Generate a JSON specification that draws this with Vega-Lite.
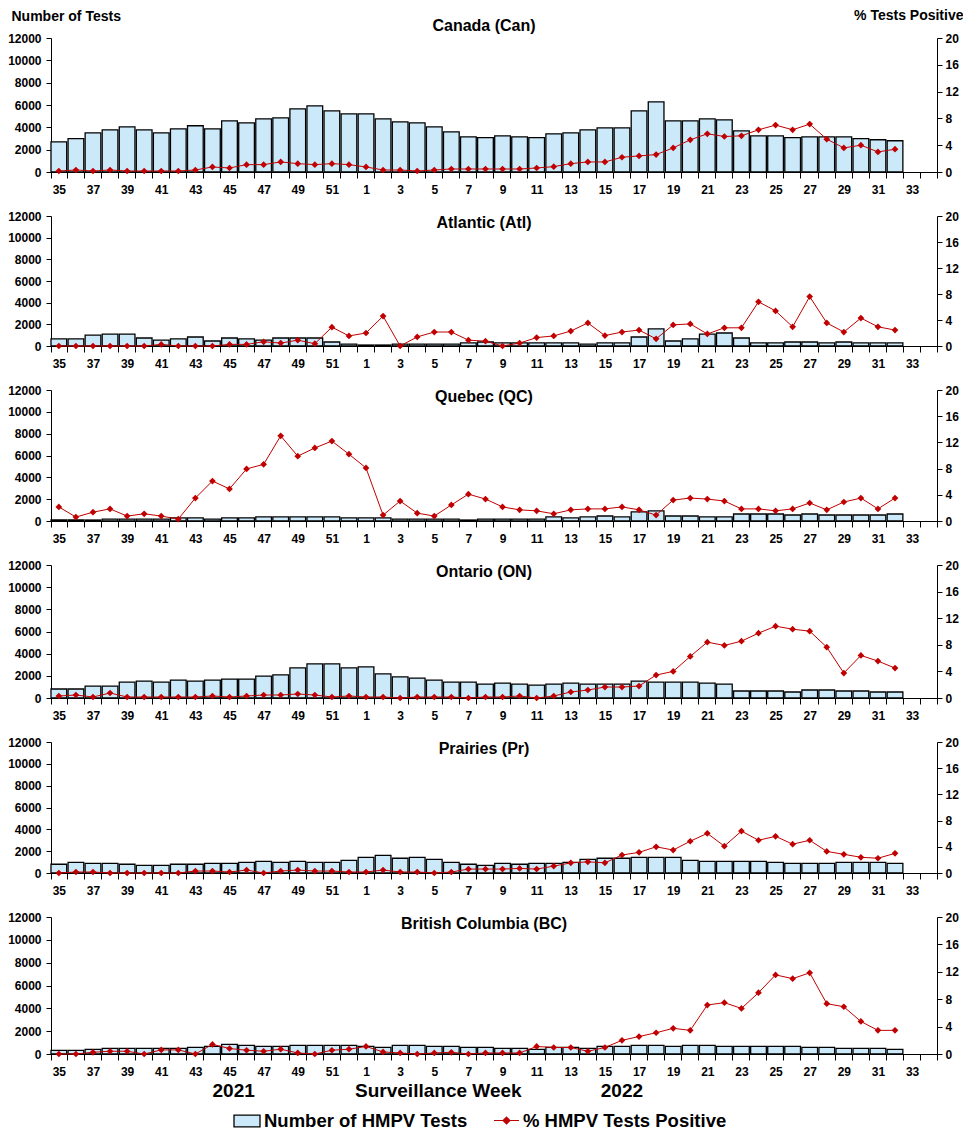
{
  "$schema": "https://vega.github.io/schema/vega-lite/v6.json",
  "padding": {"left": 7, "top": 8, "right": 0, "bottom": 0},
  "spacing": 15,
  "config": {
    "font": "Liberation Sans",
    "view": {"stroke": null},
    "axis": {"labelFont": "Liberation Sans", "labelFontWeight": "bold", "labelFontSize": 12, "labelColor": "black", "domainColor": "black", "tickColor": "black", "grid": false, "titleFont": "Liberation Sans", "titleFontWeight": "bold", "titleColor": "black"},
    "legend": {"labelFont": "Liberation Sans", "labelFontWeight": "bold", "labelFontSize": 18.5, "labelColor": "black", "labelLimit": 400, "padding": 0},
    "title": {"font": "Liberation Sans", "fontSize": 16, "fontWeight": "bold", "color": "black", "frame": "group", "baseline": "alphabetic", "dx": -10}
  },
  "vconcat": [
    {
      "title": {"text": "Canada (Can)", "offset": -26},
      "width": 886, "height": 134,
      "data": {"values": [
        {"week":35,"tests":2700,"pct":0.15},{"week":36,"tests":2980,"pct":0.3},{"week":37,"tests":3510,"pct":0.15},{"week":38,"tests":3780,"pct":0.3},{"week":39,"tests":4050,"pct":0.15},{"week":40,"tests":3780,"pct":0.15},{"week":41,"tests":3510,"pct":0.15},{"week":42,"tests":3870,"pct":0.15},{"week":43,"tests":4140,"pct":0.3},{"week":44,"tests":3870,"pct":0.75},{"week":45,"tests":4580,"pct":0.6},{"week":46,"tests":4400,"pct":1.1},{"week":47,"tests":4760,"pct":1.1},{"week":48,"tests":4850,"pct":1.5},{"week":49,"tests":5650,"pct":1.25},{"week":50,"tests":5920,"pct":1.1},{"week":51,"tests":5480,"pct":1.25},{"week":52,"tests":5210,"pct":1.1},
        {"week":1,"tests":5210,"pct":0.75},{"week":2,"tests":4760,"pct":0.3},{"week":3,"tests":4490,"pct":0.3},{"week":4,"tests":4400,"pct":0.15},{"week":5,"tests":4050,"pct":0.3},{"week":6,"tests":3600,"pct":0.45},{"week":7,"tests":3150,"pct":0.45},{"week":8,"tests":3070,"pct":0.45},{"week":9,"tests":3240,"pct":0.45},{"week":10,"tests":3150,"pct":0.45},{"week":11,"tests":3070,"pct":0.6},{"week":12,"tests":3420,"pct":0.8},{"week":13,"tests":3510,"pct":1.25},{"week":14,"tests":3780,"pct":1.5},{"week":15,"tests":3960,"pct":1.5},{"week":16,"tests":3960,"pct":2.2},{"week":17,"tests":5480,"pct":2.4},{"week":18,"tests":6280,"pct":2.6},{"week":19,"tests":4580,"pct":3.6},{"week":20,"tests":4580,"pct":4.8},{"week":21,"tests":4760,"pct":5.7},{"week":22,"tests":4670,"pct":5.3},{"week":23,"tests":3690,"pct":5.4},{"week":24,"tests":3240,"pct":6.3},{"week":25,"tests":3240,"pct":7.0},{"week":26,"tests":3070,"pct":6.3},{"week":27,"tests":3150,"pct":7.15},{"week":28,"tests":3150,"pct":4.9},{"week":29,"tests":3150,"pct":3.6},{"week":30,"tests":2980,"pct":4.0},{"week":31,"tests":2890,"pct":3.0},{"week":32,"tests":2800,"pct":3.4}
      ]},
      "encoding": {"x": {"field": "week", "type": "ordinal", "title": null,
        "scale": {"domain": [35,36,37,38,39,40,41,42,43,44,45,46,47,48,49,50,51,52,1,2,3,4,5,6,7,8,9,10,11,12,13,14,15,16,17,18,19,20,21,22,23,24,25,26,27,28,29,30,31,32,33,34], "paddingInner": 0.08, "paddingOuter": 0},
        "axis": {"labelExpr": "datum.value % 2 === 1 ? datum.label : ''", "tickBand": "extent", "labelAngle": 0, "tickSize": 6, "labelPadding": 6, "labelOverlap": false}}},
      "layer": [
        {"mark": {"type": "bar", "fill": "#cce9fa", "stroke": "black", "strokeWidth": 1.3},
         "encoding": {"y": {"field": "tests", "type": "quantitative", "scale": {"domain": [0, 12000], "nice": false},
           "axis": {"values": [0,2000,4000,6000,8000,10000,12000], "format": "d", "tickSize": 5, "labelPadding": 5, "title": "Number of Tests", "titleAngle": 0, "titleAlign": "left", "titleBaseline": "alphabetic", "titleX": -40, "titleY": -18, "titleFontSize": 14}}}},
        {"mark": {"type": "line", "color": "#c00000", "strokeWidth": 1},
         "encoding": {"y": {"field": "pct", "type": "quantitative", "scale": {"domain": [0, 20], "nice": false},
           "axis": {"orient": "right", "values": [0,4,8,12,16,20], "tickSize": 5, "labelPadding": 3, "title": "% Tests Positive", "titleAngle": 0, "titleAlign": "right", "titleBaseline": "alphabetic", "titleX": 26, "titleY": -19, "titleFontSize": 14}}}},
        {"mark": {"type": "point", "shape": "diamond", "filled": true, "color": "#c00000", "size": 45, "opacity": 1},
         "encoding": {"y": {"field": "pct", "type": "quantitative", "scale": {"domain": [0, 20], "nice": false}, "axis": null}}}
      ],
      "resolve": {"scale": {"y": "independent"}}
    },
    {
      "title": {"text": "Atlantic (Atl)", "offset": -21},
      "width": 886, "height": 130,
      "data": {"values": [
        {"week":35,"tests":650,"pct":0},{"week":36,"tests":650,"pct":0},{"week":37,"tests":1000,"pct":0},{"week":38,"tests":1100,"pct":0},{"week":39,"tests":1100,"pct":0},{"week":40,"tests":740,"pct":0},{"week":41,"tests":550,"pct":0.25},{"week":42,"tests":650,"pct":0},{"week":43,"tests":830,"pct":0},{"week":44,"tests":460,"pct":0},{"week":45,"tests":740,"pct":0.25},{"week":46,"tests":650,"pct":0.25},{"week":47,"tests":550,"pct":0.65},{"week":48,"tests":740,"pct":0.45},{"week":49,"tests":740,"pct":0.9},{"week":50,"tests":740,"pct":0.35},{"week":51,"tests":370,"pct":2.9},{"week":52,"tests":180,"pct":1.55},
        {"week":1,"tests":90,"pct":2.0},{"week":2,"tests":90,"pct":4.6},{"week":3,"tests":180,"pct":0},{"week":4,"tests":180,"pct":1.4},{"week":5,"tests":180,"pct":2.15},{"week":6,"tests":180,"pct":2.15},{"week":7,"tests":280,"pct":0.9},{"week":8,"tests":370,"pct":0.75},{"week":9,"tests":280,"pct":0},{"week":10,"tests":280,"pct":0.45},{"week":11,"tests":280,"pct":1.3},{"week":12,"tests":280,"pct":1.55},{"week":13,"tests":280,"pct":2.3},{"week":14,"tests":180,"pct":3.55},{"week":15,"tests":280,"pct":1.6},{"week":16,"tests":280,"pct":2.15},{"week":17,"tests":830,"pct":2.45},{"week":18,"tests":1580,"pct":1.1},{"week":19,"tests":460,"pct":3.25},{"week":20,"tests":650,"pct":3.4},{"week":21,"tests":1100,"pct":1.85},{"week":22,"tests":1200,"pct":2.8},{"week":23,"tests":740,"pct":2.8},{"week":24,"tests":280,"pct":6.8},{"week":25,"tests":280,"pct":5.4},{"week":26,"tests":370,"pct":2.95},{"week":27,"tests":370,"pct":7.6},{"week":28,"tests":280,"pct":3.55},{"week":29,"tests":370,"pct":2.15},{"week":30,"tests":280,"pct":4.3},{"week":31,"tests":280,"pct":2.95},{"week":32,"tests":280,"pct":2.45}
      ]},
      "encoding": {"x": {"field": "week", "type": "ordinal", "title": null,
        "scale": {"domain": [35,36,37,38,39,40,41,42,43,44,45,46,47,48,49,50,51,52,1,2,3,4,5,6,7,8,9,10,11,12,13,14,15,16,17,18,19,20,21,22,23,24,25,26,27,28,29,30,31,32,33,34], "paddingInner": 0.08, "paddingOuter": 0},
        "axis": {"labelExpr": "datum.value % 2 === 1 ? datum.label : ''", "tickBand": "extent", "labelAngle": 0, "tickSize": 6, "labelPadding": 6, "labelOverlap": false}}},
      "layer": [
        {"mark": {"type": "bar", "fill": "#cce9fa", "stroke": "black", "strokeWidth": 1.3},
         "encoding": {"y": {"field": "tests", "type": "quantitative", "scale": {"domain": [0, 12000], "nice": false},
           "axis": {"values": [0,2000,4000,6000,8000,10000,12000], "format": "d", "tickSize": 5, "labelPadding": 5, "title": null}}}},
        {"mark": {"type": "line", "color": "#c00000", "strokeWidth": 1},
         "encoding": {"y": {"field": "pct", "type": "quantitative", "scale": {"domain": [0, 20], "nice": false},
           "axis": {"orient": "right", "values": [0,4,8,12,16,20], "tickSize": 5, "labelPadding": 3, "title": null}}}},
        {"mark": {"type": "point", "shape": "diamond", "filled": true, "color": "#c00000", "size": 45, "opacity": 1},
         "encoding": {"y": {"field": "pct", "type": "quantitative", "scale": {"domain": [0, 20], "nice": false}, "axis": null}}}
      ],
      "resolve": {"scale": {"y": "independent"}}
    },
    {
      "title": {"text": "Quebec (QC)", "offset": -21},
      "width": 886, "height": 131,
      "data": {"values": [
        {"week":35,"tests":90,"pct":2.15},{"week":36,"tests":90,"pct":0.6},{"week":37,"tests":90,"pct":1.35},{"week":38,"tests":180,"pct":1.85},{"week":39,"tests":180,"pct":0.75},{"week":40,"tests":180,"pct":1.1},{"week":41,"tests":180,"pct":0.75},{"week":42,"tests":280,"pct":0.3},{"week":43,"tests":280,"pct":3.5},{"week":44,"tests":180,"pct":6.1},{"week":45,"tests":280,"pct":4.9},{"week":46,"tests":280,"pct":7.95},{"week":47,"tests":370,"pct":8.65},{"week":48,"tests":370,"pct":13.0},{"week":49,"tests":370,"pct":9.9},{"week":50,"tests":370,"pct":11.15},{"week":51,"tests":370,"pct":12.2},{"week":52,"tests":280,"pct":10.2},
        {"week":1,"tests":280,"pct":8.1},{"week":2,"tests":280,"pct":0.9},{"week":3,"tests":180,"pct":3.05},{"week":4,"tests":180,"pct":1.2},{"week":5,"tests":180,"pct":0.75},{"week":6,"tests":180,"pct":2.45},{"week":7,"tests":90,"pct":4.1},{"week":8,"tests":180,"pct":3.35},{"week":9,"tests":180,"pct":2.15},{"week":10,"tests":180,"pct":1.7},{"week":11,"tests":180,"pct":1.55},{"week":12,"tests":370,"pct":1.1},{"week":13,"tests":280,"pct":1.7},{"week":14,"tests":370,"pct":1.85},{"week":15,"tests":460,"pct":1.85},{"week":16,"tests":370,"pct":2.15},{"week":17,"tests":830,"pct":1.7},{"week":18,"tests":920,"pct":0.9},{"week":19,"tests":460,"pct":3.2},{"week":20,"tests":460,"pct":3.5},{"week":21,"tests":370,"pct":3.35},{"week":22,"tests":370,"pct":3.05},{"week":23,"tests":640,"pct":1.85},{"week":24,"tests":640,"pct":1.85},{"week":25,"tests":640,"pct":1.55},{"week":26,"tests":550,"pct":1.85},{"week":27,"tests":640,"pct":2.75},{"week":28,"tests":550,"pct":1.7},{"week":29,"tests":550,"pct":2.9},{"week":30,"tests":550,"pct":3.5},{"week":31,"tests":550,"pct":1.85},{"week":32,"tests":640,"pct":3.5}
      ]},
      "encoding": {"x": {"field": "week", "type": "ordinal", "title": null,
        "scale": {"domain": [35,36,37,38,39,40,41,42,43,44,45,46,47,48,49,50,51,52,1,2,3,4,5,6,7,8,9,10,11,12,13,14,15,16,17,18,19,20,21,22,23,24,25,26,27,28,29,30,31,32,33,34], "paddingInner": 0.08, "paddingOuter": 0},
        "axis": {"labelExpr": "datum.value % 2 === 1 ? datum.label : ''", "tickBand": "extent", "labelAngle": 0, "tickSize": 6, "labelPadding": 6, "labelOverlap": false}}},
      "layer": [
        {"mark": {"type": "bar", "fill": "#cce9fa", "stroke": "black", "strokeWidth": 1.3},
         "encoding": {"y": {"field": "tests", "type": "quantitative", "scale": {"domain": [0, 12000], "nice": false},
           "axis": {"values": [0,2000,4000,6000,8000,10000,12000], "format": "d", "tickSize": 5, "labelPadding": 5, "title": null}}}},
        {"mark": {"type": "line", "color": "#c00000", "strokeWidth": 1},
         "encoding": {"y": {"field": "pct", "type": "quantitative", "scale": {"domain": [0, 20], "nice": false},
           "axis": {"orient": "right", "values": [0,4,8,12,16,20], "tickSize": 5, "labelPadding": 3, "title": null}}}},
        {"mark": {"type": "point", "shape": "diamond", "filled": true, "color": "#c00000", "size": 45, "opacity": 1},
         "encoding": {"y": {"field": "pct", "type": "quantitative", "scale": {"domain": [0, 20], "nice": false}, "axis": null}}}
      ],
      "resolve": {"scale": {"y": "independent"}}
    },
    {
      "title": {"text": "Ontario (ON)", "offset": -21},
      "width": 886, "height": 133,
      "data": {"values": [
        {"week":35,"tests":810,"pct":0.3},{"week":36,"tests":810,"pct":0.45},{"week":37,"tests":1080,"pct":0.15},{"week":38,"tests":1080,"pct":0.75},{"week":39,"tests":1440,"pct":0.15},{"week":40,"tests":1530,"pct":0.15},{"week":41,"tests":1440,"pct":0.15},{"week":42,"tests":1620,"pct":0.15},{"week":43,"tests":1530,"pct":0.15},{"week":44,"tests":1620,"pct":0.3},{"week":45,"tests":1710,"pct":0.15},{"week":46,"tests":1710,"pct":0.3},{"week":47,"tests":1980,"pct":0.45},{"week":48,"tests":2080,"pct":0.45},{"week":49,"tests":2710,"pct":0.6},{"week":50,"tests":3070,"pct":0.45},{"week":51,"tests":3070,"pct":0.15},{"week":52,"tests":2710,"pct":0.3},
        {"week":1,"tests":2800,"pct":0.15},{"week":2,"tests":2170,"pct":0.15},{"week":3,"tests":1900,"pct":0},{"week":4,"tests":1800,"pct":0.15},{"week":5,"tests":1620,"pct":0.15},{"week":6,"tests":1440,"pct":0.15},{"week":7,"tests":1440,"pct":0},{"week":8,"tests":1260,"pct":0.15},{"week":9,"tests":1350,"pct":0.15},{"week":10,"tests":1260,"pct":0.3},{"week":11,"tests":1170,"pct":0},{"week":12,"tests":1260,"pct":0.3},{"week":13,"tests":1350,"pct":0.9},{"week":14,"tests":1260,"pct":1.2},{"week":15,"tests":1260,"pct":1.65},{"week":16,"tests":1260,"pct":1.65},{"week":17,"tests":1530,"pct":1.8},{"week":18,"tests":1440,"pct":3.45},{"week":19,"tests":1440,"pct":4.0},{"week":20,"tests":1440,"pct":6.25},{"week":21,"tests":1350,"pct":8.4},{"week":22,"tests":1260,"pct":7.9},{"week":23,"tests":630,"pct":8.55},{"week":24,"tests":630,"pct":9.75},{"week":25,"tests":630,"pct":10.8},{"week":26,"tests":540,"pct":10.35},{"week":27,"tests":720,"pct":10.05},{"week":28,"tests":720,"pct":7.65},{"week":29,"tests":630,"pct":3.75},{"week":30,"tests":630,"pct":6.4},{"week":31,"tests":540,"pct":5.55},{"week":32,"tests":540,"pct":4.5}
      ]},
      "encoding": {"x": {"field": "week", "type": "ordinal", "title": null,
        "scale": {"domain": [35,36,37,38,39,40,41,42,43,44,45,46,47,48,49,50,51,52,1,2,3,4,5,6,7,8,9,10,11,12,13,14,15,16,17,18,19,20,21,22,23,24,25,26,27,28,29,30,31,32,33,34], "paddingInner": 0.08, "paddingOuter": 0},
        "axis": {"labelExpr": "datum.value % 2 === 1 ? datum.label : ''", "tickBand": "extent", "labelAngle": 0, "tickSize": 6, "labelPadding": 6, "labelOverlap": false}}},
      "layer": [
        {"mark": {"type": "bar", "fill": "#cce9fa", "stroke": "black", "strokeWidth": 1.3},
         "encoding": {"y": {"field": "tests", "type": "quantitative", "scale": {"domain": [0, 12000], "nice": false},
           "axis": {"values": [0,2000,4000,6000,8000,10000,12000], "format": "d", "tickSize": 5, "labelPadding": 5, "title": null}}}},
        {"mark": {"type": "line", "color": "#c00000", "strokeWidth": 1},
         "encoding": {"y": {"field": "pct", "type": "quantitative", "scale": {"domain": [0, 20], "nice": false},
           "axis": {"orient": "right", "values": [0,4,8,12,16,20], "tickSize": 5, "labelPadding": 3, "title": null}}}},
        {"mark": {"type": "point", "shape": "diamond", "filled": true, "color": "#c00000", "size": 45, "opacity": 1},
         "encoding": {"y": {"field": "pct", "type": "quantitative", "scale": {"domain": [0, 20], "nice": false}, "axis": null}}}
      ],
      "resolve": {"scale": {"y": "independent"}}
    },
    {
      "title": {"text": "Prairies (Pr)", "offset": -21},
      "width": 886, "height": 131,
      "data": {"values": [
        {"week":35,"tests":800,"pct":0},{"week":36,"tests":980,"pct":0.15},{"week":37,"tests":890,"pct":0.15},{"week":38,"tests":890,"pct":0},{"week":39,"tests":800,"pct":0},{"week":40,"tests":700,"pct":0},{"week":41,"tests":700,"pct":0},{"week":42,"tests":800,"pct":0},{"week":43,"tests":800,"pct":0.3},{"week":44,"tests":890,"pct":0.3},{"week":45,"tests":890,"pct":0.15},{"week":46,"tests":980,"pct":0.45},{"week":47,"tests":1070,"pct":0},{"week":48,"tests":980,"pct":0.3},{"week":49,"tests":1070,"pct":0.45},{"week":50,"tests":980,"pct":0.3},{"week":51,"tests":980,"pct":0.3},{"week":52,"tests":1160,"pct":0.15},
        {"week":1,"tests":1440,"pct":0.15},{"week":2,"tests":1620,"pct":0.45},{"week":3,"tests":1350,"pct":0.15},{"week":4,"tests":1440,"pct":0.15},{"week":5,"tests":1250,"pct":0},{"week":6,"tests":980,"pct":0.15},{"week":7,"tests":800,"pct":0.6},{"week":8,"tests":700,"pct":0.6},{"week":9,"tests":890,"pct":0.6},{"week":10,"tests":800,"pct":0.7},{"week":11,"tests":890,"pct":0.6},{"week":12,"tests":890,"pct":1.05},{"week":13,"tests":980,"pct":1.55},{"week":14,"tests":1250,"pct":1.7},{"week":15,"tests":1350,"pct":1.55},{"week":16,"tests":1350,"pct":2.75},{"week":17,"tests":1440,"pct":3.15},{"week":18,"tests":1440,"pct":4.0},{"week":19,"tests":1440,"pct":3.5},{"week":20,"tests":1160,"pct":4.85},{"week":21,"tests":1070,"pct":6.05},{"week":22,"tests":1070,"pct":4.1},{"week":23,"tests":1070,"pct":6.4},{"week":24,"tests":1070,"pct":5.0},{"week":25,"tests":980,"pct":5.6},{"week":26,"tests":890,"pct":4.4},{"week":27,"tests":890,"pct":5.0},{"week":28,"tests":890,"pct":3.3},{"week":29,"tests":980,"pct":2.85},{"week":30,"tests":980,"pct":2.4},{"week":31,"tests":980,"pct":2.25},{"week":32,"tests":890,"pct":3.0}
      ]},
      "encoding": {"x": {"field": "week", "type": "ordinal", "title": null,
        "scale": {"domain": [35,36,37,38,39,40,41,42,43,44,45,46,47,48,49,50,51,52,1,2,3,4,5,6,7,8,9,10,11,12,13,14,15,16,17,18,19,20,21,22,23,24,25,26,27,28,29,30,31,32,33,34], "paddingInner": 0.08, "paddingOuter": 0},
        "axis": {"labelExpr": "datum.value % 2 === 1 ? datum.label : ''", "tickBand": "extent", "labelAngle": 0, "tickSize": 6, "labelPadding": 6, "labelOverlap": false}}},
      "layer": [
        {"mark": {"type": "bar", "fill": "#cce9fa", "stroke": "black", "strokeWidth": 1.3},
         "encoding": {"y": {"field": "tests", "type": "quantitative", "scale": {"domain": [0, 12000], "nice": false},
           "axis": {"values": [0,2000,4000,6000,8000,10000,12000], "format": "d", "tickSize": 5, "labelPadding": 5, "title": null}}}},
        {"mark": {"type": "line", "color": "#c00000", "strokeWidth": 1},
         "encoding": {"y": {"field": "pct", "type": "quantitative", "scale": {"domain": [0, 20], "nice": false},
           "axis": {"orient": "right", "values": [0,4,8,12,16,20], "tickSize": 5, "labelPadding": 3, "title": null}}}},
        {"mark": {"type": "point", "shape": "diamond", "filled": true, "color": "#c00000", "size": 45, "opacity": 1},
         "encoding": {"y": {"field": "pct", "type": "quantitative", "scale": {"domain": [0, 20], "nice": false}, "axis": null}}}
      ],
      "resolve": {"scale": {"y": "independent"}}
    },
    {
      "title": {"text": "British Columbia (BC)", "offset": -21},
      "width": 886, "height": 137,
      "data": {"values": [
        {"week":35,"tests":320,"pct":0},{"week":36,"tests":320,"pct":0},{"week":37,"tests":410,"pct":0.25},{"week":38,"tests":490,"pct":0.4},{"week":39,"tests":490,"pct":0.4},{"week":40,"tests":490,"pct":0},{"week":41,"tests":490,"pct":0.6},{"week":42,"tests":490,"pct":0.6},{"week":43,"tests":580,"pct":0},{"week":44,"tests":670,"pct":1.4},{"week":45,"tests":840,"pct":0.8},{"week":46,"tests":760,"pct":0.55},{"week":47,"tests":670,"pct":0.4},{"week":48,"tests":670,"pct":0.7},{"week":49,"tests":760,"pct":0.15},{"week":50,"tests":760,"pct":0},{"week":51,"tests":760,"pct":0.55},{"week":52,"tests":760,"pct":0.7},
        {"week":1,"tests":670,"pct":1.1},{"week":2,"tests":580,"pct":0.3},{"week":3,"tests":760,"pct":0.15},{"week":4,"tests":760,"pct":0},{"week":5,"tests":670,"pct":0.15},{"week":6,"tests":670,"pct":0.25},{"week":7,"tests":580,"pct":0},{"week":8,"tests":580,"pct":0.15},{"week":9,"tests":490,"pct":0.15},{"week":10,"tests":490,"pct":0.15},{"week":11,"tests":410,"pct":1.1},{"week":12,"tests":580,"pct":0.95},{"week":13,"tests":580,"pct":0.95},{"week":14,"tests":490,"pct":0.4},{"week":15,"tests":670,"pct":0.95},{"week":16,"tests":670,"pct":2.0},{"week":17,"tests":760,"pct":2.55},{"week":18,"tests":760,"pct":3.1},{"week":19,"tests":670,"pct":3.75},{"week":20,"tests":760,"pct":3.45},{"week":21,"tests":760,"pct":7.15},{"week":22,"tests":670,"pct":7.5},{"week":23,"tests":670,"pct":6.65},{"week":24,"tests":670,"pct":8.95},{"week":25,"tests":670,"pct":11.55},{"week":26,"tests":670,"pct":11.0},{"week":27,"tests":580,"pct":11.85},{"week":28,"tests":580,"pct":7.35},{"week":29,"tests":490,"pct":6.9},{"week":30,"tests":490,"pct":4.75},{"week":31,"tests":490,"pct":3.45},{"week":32,"tests":410,"pct":3.45}
      ]},
      "encoding": {"x": {"field": "week", "type": "ordinal",
        "title": "2021\u00a0\u00a0\u00a0\u00a0\u00a0\u00a0\u00a0\u00a0\u00a0\u00a0\u00a0\u00a0\u00a0\u00a0\u00a0\u00a0\u00a0\u00a0\u00a0Surveillance Week\u00a0\u00a0\u00a0\u00a0\u00a0\u00a0\u00a0\u00a0\u00a0\u00a0\u00a0\u00a0\u00a0\u00a0\u00a02022",
        "scale": {"domain": [35,36,37,38,39,40,41,42,43,44,45,46,47,48,49,50,51,52,1,2,3,4,5,6,7,8,9,10,11,12,13,14,15,16,17,18,19,20,21,22,23,24,25,26,27,28,29,30,31,32,33,34], "paddingInner": 0.08, "paddingOuter": 0},
        "axis": {"labelExpr": "datum.value % 2 === 1 ? datum.label : ''", "tickBand": "extent", "labelAngle": 0, "tickSize": 6, "labelPadding": 6, "labelOverlap": false,
          "titleFontSize": 19, "titleAnchor": "start", "titleAlign": "left", "titleBaseline": "alphabetic", "titleX": 161, "titleY": 42}}},
      "layer": [
        {"mark": {"type": "bar", "stroke": "black", "strokeWidth": 1.3},
         "encoding": {"y": {"field": "tests", "type": "quantitative", "scale": {"domain": [0, 12000], "nice": false},
           "axis": {"values": [0,2000,4000,6000,8000,10000,12000], "format": "d", "tickSize": 5, "labelPadding": 5, "title": null}},
           "fill": {"datum": "Number of HMPV Tests", "type": "nominal",
             "scale": {"domain": ["Number of HMPV Tests"], "range": ["#cce9fa"]},
             "legend": {"orient": "none", "legendX": 182, "legendY": 1069, "direction": "horizontal", "title": null,
               "symbolSize": 676, "symbolType": "M-1,-0.45H1V0.45H-1Z", "symbolStrokeColor": "black", "symbolStrokeWidth": 1.3, "symbolOpacity": 1,
               "labelOffset": 3}}}},
        {"mark": {"type": "line", "strokeWidth": 1},
         "encoding": {"y": {"field": "pct", "type": "quantitative", "scale": {"domain": [0, 20], "nice": false},
           "axis": {"orient": "right", "values": [0,4,8,12,16,20], "tickSize": 5, "labelPadding": 3, "title": null}},
           "stroke": {"datum": "% HMPV Tests Positive", "type": "nominal",
             "scale": {"domain": ["% HMPV Tests Positive"], "range": ["#c00000"]},
             "legend": {"orient": "none", "legendX": 442, "legendY": 1069, "direction": "horizontal", "title": null,
               "symbolSize": 625, "symbolType": "M-1,0H1M0,-0.27L0.27,0L0,0.27L-0.27,0Z", "symbolFillColor": "#c00000", "symbolStrokeWidth": 1.2, "symbolOpacity": 1,
               "labelOffset": 3}}}},
        {"mark": {"type": "point", "shape": "diamond", "filled": true, "color": "#c00000", "size": 45, "opacity": 1},
         "encoding": {"y": {"field": "pct", "type": "quantitative", "scale": {"domain": [0, 20], "nice": false}, "axis": null}}}
      ],
      "resolve": {"scale": {"y": "independent"}}
    }
  ]
}
